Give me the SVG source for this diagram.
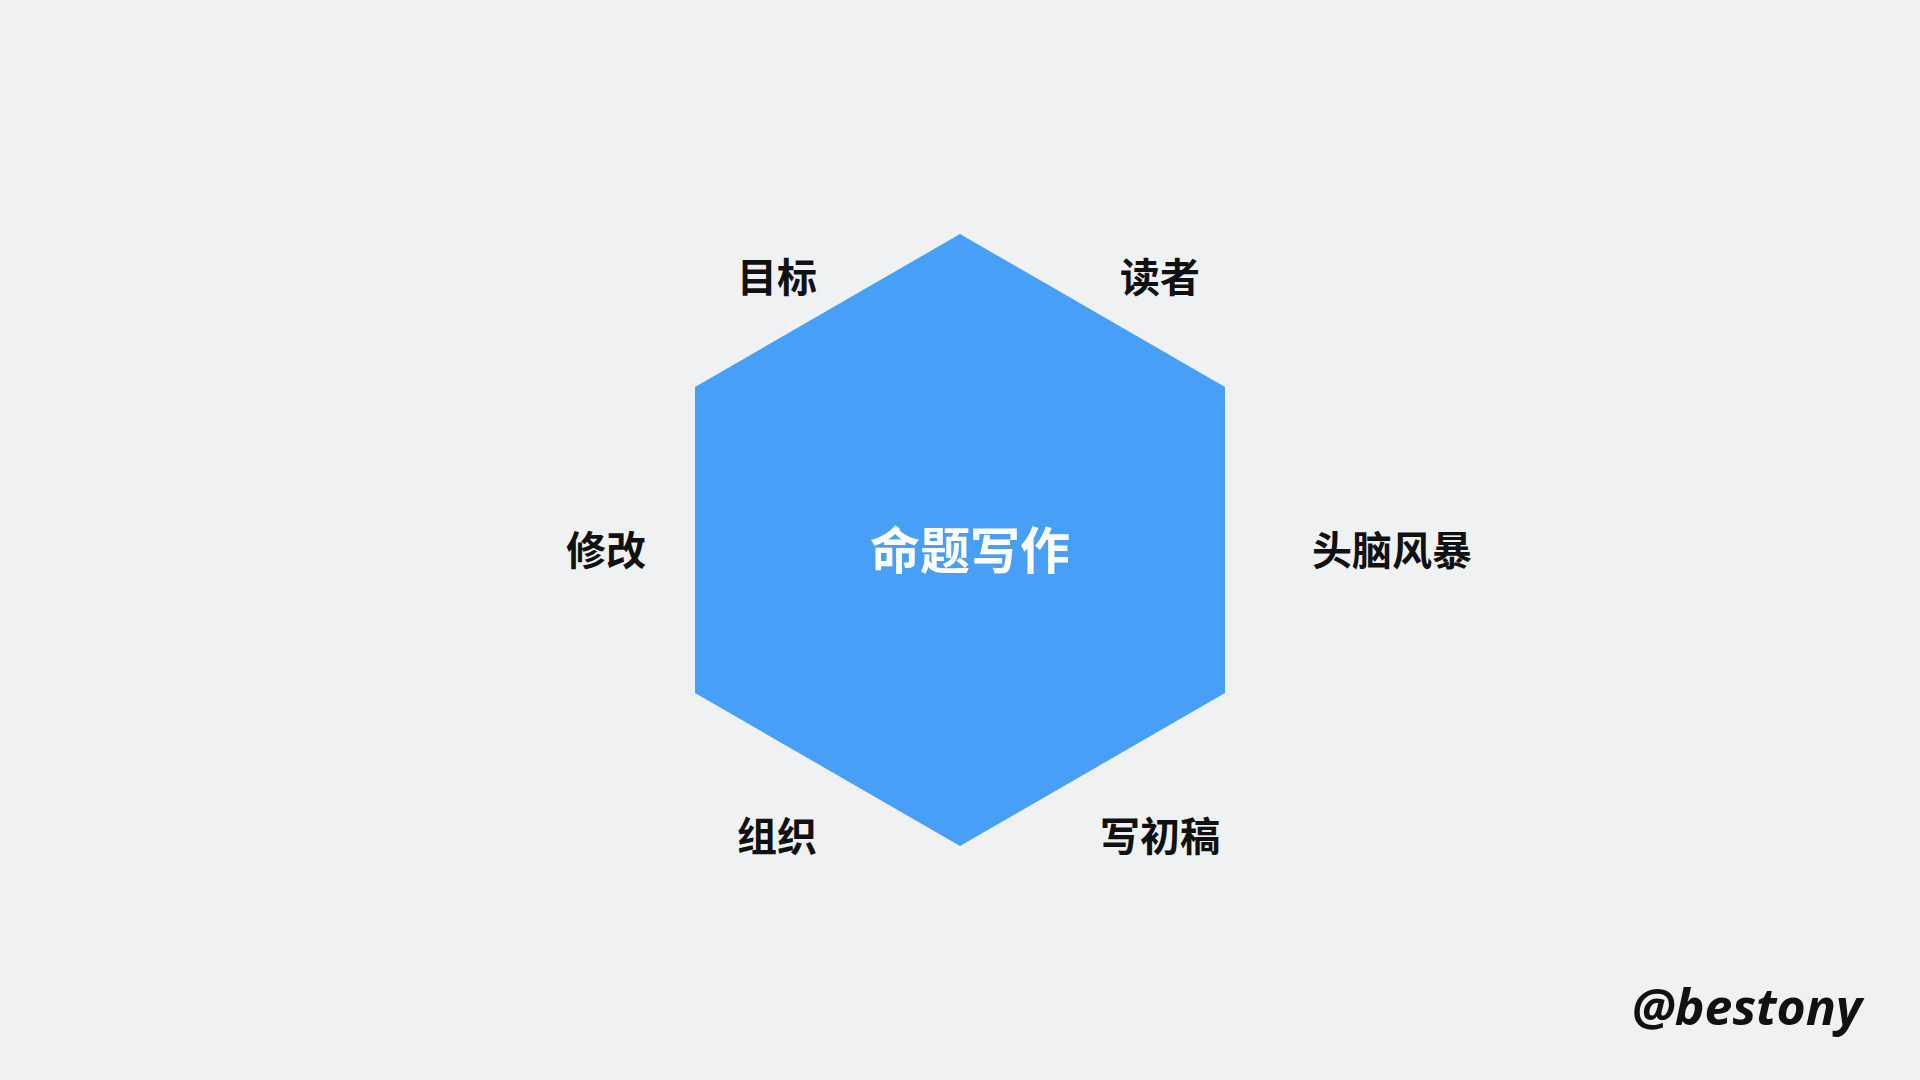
<svg xmlns="http://www.w3.org/2000/svg" width="1920" height="1080" viewBox="0 0 1920 1080">
<style>
.lbl{font-family:"Noto Sans CJK SC","Noto Sans",sans-serif;font-weight:bold;font-size:40px;fill:#111;text-anchor:middle}
.ctr{font-family:"Noto Sans CJK SC","Noto Sans",sans-serif;font-weight:bold;font-size:50px;fill:#fff;text-anchor:middle}
.sig{font-family:"Open Sans","Noto Sans",sans-serif;font-weight:bold;font-style:italic;font-size:50px;fill:#111}
</style>
<rect width="1920" height="1080" fill="#f0f1f3"/>
<g id="hexagon">
<polygon points="960,234 1225,387 1225,693 960,846 695,693 695,387" fill="#489ff8"/>
<text class="ctr" x="970" y="569">命题写作</text>
</g>
<g id="connectors"></g>
<g id="n-mubiao"><text class="lbl" x="777" y="292">目标</text></g>
<g id="n-duzhe"><text class="lbl" x="1160" y="292">读者</text></g>
<g id="n-xiugai"><text class="lbl" x="606" y="565">修改</text></g>
<g id="n-naobao"><text class="lbl" x="1392" y="565">头脑风暴</text></g>
<g id="n-zuzhi"><text class="lbl" x="777" y="851">组织</text></g>
<g id="n-chugao"><text class="lbl" x="1160" y="851">写初稿</text></g>
<text class="sig" x="1632" y="1025">@bestony</text>
</svg>
